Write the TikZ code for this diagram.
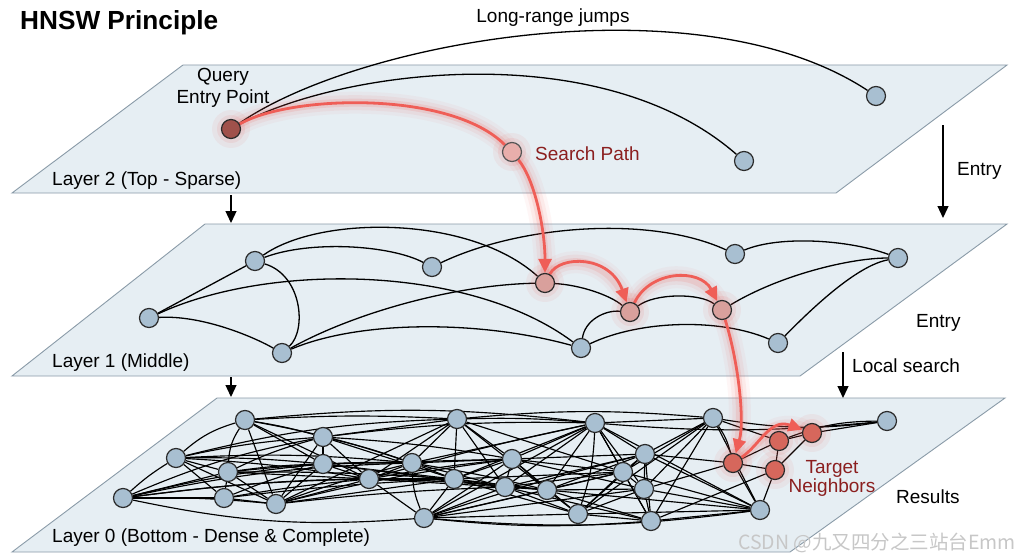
\documentclass[tikz,border=0pt]{standalone}
\usepackage{fontspec}
\setmainfont{Liberation Sans}
\newfontfamily\cjkwm{Noto Sans CJK SC}
\usetikzlibrary{arrows.meta}
\pgfdeclarelayer{back}\pgfdeclarelayer{mid}\pgfdeclarelayer{glow}
\pgfsetlayers{back,mid,glow,main}
\definecolor{planefill}{HTML}{E6EEF3}
\definecolor{planeedge}{HTML}{8A9BA8}
\definecolor{bfill}{HTML}{A8BFD1}
\definecolor{nedge}{HTML}{2B2B2B}
\definecolor{qfill}{HTML}{A0514B}
\definecolor{sfill}{HTML}{E8AEAB}
\definecolor{pfill}{HTML}{D9A09C}
\definecolor{tfill}{HTML}{D6675C}
\definecolor{redl}{HTML}{EF5E57}
\definecolor{redt}{HTML}{8B1F1F}
\newcommand\glowpath[2]{%
  \draw[line width=22pt, draw=redl, opacity=.05, line cap=round] #2;
  \draw[line width=15pt, draw=redl, opacity=.08, line cap=round] #2;
  \draw[line width=8pt, draw=redl, opacity=.14, line cap=round] #2;
  \draw[redline,#1] #2;}
\newcommand\halo[1]{%
  \fill[redl, opacity=.07] (#1) circle (19pt);
  \fill[redl, opacity=.10] (#1) circle (14pt);}
\begin{document}
\begin{tikzpicture}[x=1pt,y=-1pt,
  plane/.style={fill=planefill, draw=planeedge, line width=0.9pt},
  bnode/.style={circle, minimum size=19pt, inner sep=0pt, fill=bfill, draw=nedge, line width=1.2pt},
  qnode/.style={bnode, fill=qfill},
  snode/.style={bnode, fill=sfill, draw=nedge!80},
  pnode/.style={bnode, fill=pfill},
  tnode/.style={bnode, fill=tfill},
  edge/.style={draw=black, line width=1.3pt},
  edge0/.style={draw=black, line width=1.15pt},
  redline/.style={draw=redl, line width=2.8pt},
  redtip/.style={-{Triangle[length=14pt,width=13pt]}},
  darrow/.style={draw=black, line width=1.3pt, -{Triangle[length=12pt,width=11pt]}},
  lbl/.style={font=\fontsize{19}{22}\selectfont, inner sep=0pt},
]
\useasboundingbox (0,0) rectangle (1024,559);

% planes
\begin{pgfonlayer}{back}
\fill[white] (0,0) rectangle (1024,559);
\draw[plane] (183,65) -- (1007,65) -- (836,193) -- (12,193) -- cycle;
\draw[plane] (205,224) -- (1007,224) -- (800,376) -- (12,376) -- cycle;
\draw[plane] (217,398) -- (1005,398) -- (790,552) -- (12,552) -- cycle;
\end{pgfonlayer}

% ---------- Layer 2 nodes
\node[qnode] (Q) at (231,129) {};
\node[snode] (S) at (512,152) {};
\node[bnode] (L2b) at (744,161) {};
\node[bnode] (L2a) at (876,96) {};

% ---------- Layer 1 nodes
\node[bnode] (A) at (255,261) {};
\node[bnode] (B) at (432,267) {};
\node[bnode] (C) at (149,318) {};
\node[bnode] (D) at (282,353) {};
\node[pnode] (E) at (545,283) {};
\node[pnode] (F) at (630,312) {};
\node[pnode] (G) at (722,310) {};
\node[bnode] (H) at (735,254) {};
\node[bnode] (I) at (898,258) {};
\node[bnode] (J) at (581,348) {};
\node[bnode] (K) at (778,343) {};

% ---------- Layer 0 nodes
\foreach \n/\x/\y in {a/123/498, b/176/458, c/245/420, d/228/472, e/224/498,
  f/276/504, g/323/437, h/323/464, i/369/479, j/412/463, k/457/419, l/454/479,
  m/424/518, n/512/459, o/505/487, p/547/490, q/595/423, r/623/472, s/578/514,
  t/645/454, u/644/489, v/651/521, w/713/418, x/760/510, y/887/421}
  \node[bnode] (\n) at (\x,\y) {};
\node[tnode] (T1) at (733,463) {};
\node[tnode] (T2) at (779,441) {};
\node[tnode] (T3) at (775,470) {};
\node[tnode] (T4) at (812,433) {};

% ---------- black edges
\begin{pgfonlayer}{mid}
\draw[edge] (Q) .. controls (360,40) and (700,-20) .. (L2a);
\draw[edge] (Q) .. controls (340,70) and (600,35) .. (L2b);

\draw[edge] (C) -- (A);
\draw[edge] (A) .. controls (310,240) and (390,245) .. (B);
\draw[edge] (A) .. controls (320,215) and (470,215) .. (E);
\draw[edge] (A) .. controls (302,275) and (307,330) .. (D);
\draw[edge] (B) .. controls (520,225) and (650,215) .. (H);
\draw[edge] (C) .. controls (270,262) and (470,265) .. (J);
\draw[edge] (C) .. controls (200,315) and (250,335) .. (D);
\draw[edge] (D) .. controls (350,315) and (450,285) .. (E);
\draw[edge] (D) .. controls (360,320) and (480,320) .. (J);
\draw[edge] (E) .. controls (580,285) and (610,295) .. (F);
\draw[edge] (J) .. controls (585,320) and (605,310) .. (F);
\draw[edge] (F) .. controls (655,293) and (700,293) .. (G);
\draw[edge] (G) .. controls (780,275) and (850,258) .. (I);
\draw[edge] (H) .. controls (780,235) and (850,240) .. (I);
\draw[edge] (J) .. controls (640,320) and (720,318) .. (K);
\draw[edge] (K) .. controls (820,300) and (860,265) .. (I);

\foreach \u/\v/\b in {a/b/5, a/d/0, a/e/0, a/f/3, a/h/4, a/i/3, a/l/4, a/m/-8, a/j/5, a/g/6,
 b/c/12, b/d/0, b/e/0, b/f/0, b/g/4, b/h/3, b/i/3, b/j/4, b/k/6,
 c/d/-15, c/f/0, c/g/3, c/h/0, c/k/3, c/q/6, c/i/0, c/j/4,
 d/e/0, d/g/5, d/h/3, d/i/0, d/f/0, d/j/3, d/l/2,
 e/f/0, e/h/3, e/i/2, e/l/2,
 f/g/0, f/h/0, f/i/0, f/j/3, f/k/0, f/l/0, f/n/3, f/o/2,
 g/h/0, g/i/0, g/k/0, g/j/3, g/l/0, g/n/3, g/q/4,
 h/i/0, h/j/2, h/l/0, h/n/0, h/o/0,
 i/k/0, i/j/0, i/l/0, i/m/0, i/n/2, i/o/0, i/p/2, i/q/2,
 j/k/0, j/m/-10, j/l/0, j/n/0, j/o/0, j/p/2, j/q/0,
 k/l/0, k/n/0, k/q/3, k/o/0, k/p/0, k/r/0, k/w/5,
 l/m/0, l/n/0, l/o/0, l/p/0, l/s/0, l/q/0, l/r/0,
 m/n/0, m/o/0, m/p/0, m/q/0, m/r/0, m/s/0, m/v/-5, m/x/-6, m/u/0, m/t/2,
 n/o/0, n/q/0, n/p/0, n/r/0, n/t/0, n/u/0, n/s/0,
 o/q/0, o/p/0, o/r/0, o/s/0, o/t/0, o/v/0,
 p/q/0, p/r/0, p/s/0, p/t/0, p/u/0, p/v/0, p/x/0,
 q/r/0, q/s/8, q/t/0, q/u/0, q/w/0, q/v/0, q/y/-5, q/x/0,
 r/s/0, r/t/0, r/u/0, r/v/0, r/w/0, r/x/0,
 s/t/0, s/u/0, s/v/0, s/w/0, s/x/0,
 t/u/0, t/v/0, t/w/0, t/x/0, t/T1/0,
 u/v/0, u/w/0, u/x/0, u/T1/0,
 v/w/0, v/x/0, v/T3/0,
 w/T1/10, w/T2/0, w/y/-8, w/x/0,
 x/T3/0, x/T1/0,
 T1/T3/0, T1/T2/0, T2/T3/0, T2/T4/0, T3/T4/0, T4/y/0, T2/y/10}
  \draw[edge0] (\u) to[bend left=\b] (\v);
\end{pgfonlayer}

% ---------- red search path with glow
\begin{pgfonlayer}{glow}
\halo{Q}\halo{S}\halo{E}\halo{F}\halo{G}\halo{T1}\halo{T2}\halo{T3}\halo{T4}
\glowpath{}{(Q) .. controls (290,95) and (450,90) .. (S)}
\glowpath{redtip}{(S) .. controls (535,180) and (545,230) .. (E)}
\glowpath{redtip}{(E) .. controls (560,255) and (610,255) .. (F)}
\glowpath{redtip}{(F) .. controls (650,270) and (700,268) .. (G)}
\glowpath{redtip}{(G) .. controls (738,360) and (745,420) .. (T1)}
\glowpath{redtip}{(T1) .. controls (760,445) and (770,418) .. (T4)}
\end{pgfonlayer}

% ---------- vertical arrows
\coordinate (v1s) at (231,195); \coordinate (v1e) at (231,223);
\coordinate (v2s) at (231,377); \coordinate (v2e) at (231,397);
\coordinate (v3s) at (943,125); \coordinate (v3e) at (943,218);
\coordinate (v4s) at (843,352); \coordinate (v4e) at (843,398);
\draw[darrow] (v1s) -- (v1e);
\draw[darrow] (v2s) -- (v2e);
\draw[darrow] (v3s) -- (v3e);
\draw[darrow] (v4s) -- (v4e);

% ---------- texts
\node[anchor=base west, inner sep=0pt, font=\bfseries\fontsize{26.2}{30}\selectfont] (title) at (20,30) {HNSW Principle};
\node[lbl, anchor=base] (lrj) at (553,23) {Long-range jumps};
\node[lbl, align=center] (qep) at (223,88) {Query\\Entry Point};
\node[lbl, anchor=base west] (l2) at (52,185) {Layer 2 (Top - Sparse)};
\node[lbl, anchor=base west] (l1) at (52,367) {Layer 1 (Middle)};
\node[lbl, anchor=base west] (l0) at (52,542) {Layer 0 (Bottom - Dense \& Complete)};
\node[lbl, anchor=base west, text=redt] (sp) at (535,160) {Search Path};
\node[lbl, anchor=base west] (en1) at (957,175) {Entry};
\node[lbl, anchor=base west] (en2) at (916,327) {Entry};
\node[lbl, anchor=base west] (ls) at (852,372) {Local search};
\node[lbl, anchor=base west] (res) at (896,503) {Results};
\node[lbl, align=center, text=redt, font=\fontsize{19}{19}\selectfont] (tn) at (832,478) {Target\\Neighbors};
\node[anchor=base west, inner sep=0pt, text=black!22, font=\cjkwm\fontsize{19.5}{21}\selectfont] (wm) at (738,549) {CSDN @九又四分之三站台Emm};
\end{tikzpicture}
\end{document}
